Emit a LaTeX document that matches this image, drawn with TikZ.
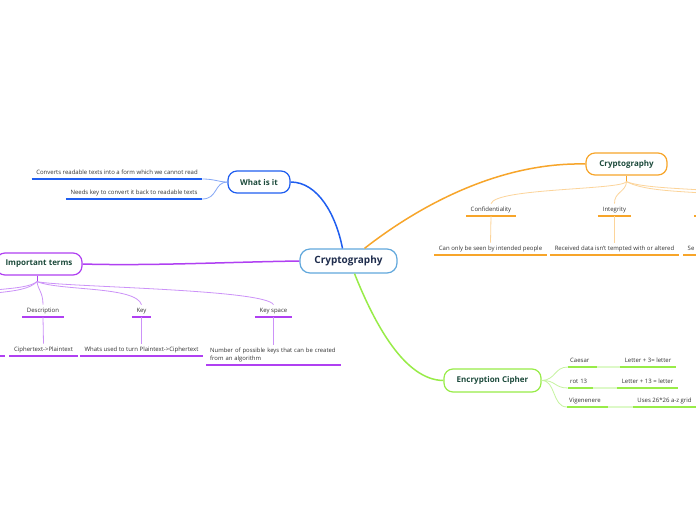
\documentclass[tikz,border=0pt]{standalone}
\usepackage{fontspec}
\setmainfont{Open Sans}
\usetikzlibrary{calc}
\definecolor{hd}{HTML}{1D4B3C}
\definecolor{ctxt}{HTML}{1F2D4D}
\definecolor{txt}{HTML}{333333}
\definecolor{cbord}{HTML}{62A8DC}
\definecolor{bl}{HTML}{1F5EF0}
\definecolor{bllt}{HTML}{86A8F6}
\definecolor{pu}{HTML}{B040F2}
\definecolor{pult}{HTML}{CC92F8}
\definecolor{or}{HTML}{F7A52A}
\definecolor{orlt}{HTML}{FCD49A}
\definecolor{gr}{HTML}{98EC48}
\definecolor{grlt}{HTML}{C6F4A0}
\definecolor{grvl}{HTML}{DDF9C8}
\begin{document}
\begin{tikzpicture}[x=1pt,y=-1pt,
  topic/.style={draw=#1, line width=1.2pt, rounded corners=9pt, fill=white,
    font=\fontsize{8}{9}\selectfont\bfseries, text=hd, minimum height=22pt, inner sep=0pt},
  leaf/.style={font=\fontsize{6}{7}\selectfont, text=txt, inner xsep=4.5pt, inner ysep=3pt,
    text height=4.4pt, text depth=1.5pt, anchor=south},
  ul/.style={line width=2pt, draw=#1},
  main/.style={line width=1.5pt, draw=#1},
  thin/.style={line width=0.8pt, draw=#1}]
\clip (0,0) rectangle (696,520);
\fill[white] (0,0) rectangle (696,520);

% ---------- central and main topics ----------
\node[topic=cbord, font=\fontsize{10}{11}\selectfont\bfseries, text=ctxt, minimum width=97pt, minimum height=24pt, rounded corners=10pt] (c) at (348.5,261) {Cryptography};
\node[topic=bl, minimum width=62pt] (what) at (259,182) {What is it};
\node[topic=pu, minimum width=86pt] (imp) at (39,264) {Important terms};
\node[topic=or, minimum width=81pt] (cry) at (626.5,164) {Cryptography};
\node[topic=gr, minimum width=97pt, minimum height=23pt] (enc) at (492.5,380.5) {Encryption Cipher};

\draw[main=bl] ($(c.north)+(-6,0)$) .. controls (336,215) and (318,182) .. (what.east);
\draw[main=or] ($(c.north)+(16,0)$) .. controls (420,205) and (500,162) .. (cry.west);
\draw[main=gr] ($(c.south)+(6,0)$) .. controls (375,325) and (405,380) .. (enc.west);
\draw[main=pu] (c.west) .. controls (230,262) and (150,266) .. (imp.east);

% ---------- What is it ----------
\node[leaf, minimum width=170pt] (w1) at (117,179) {Converts readable texts into a form which we cannot read};
\node[leaf, minimum width=136pt] (w2) at (134,199) {Needs key to convert it back to readable texts};
\draw[ul=bl] (w1.south west) -- (w1.south east);
\draw[ul=bl] (w2.south west) -- (w2.south east);
\draw[thin=bllt] (w1.south east) .. controls (215,179) and (218,182) .. (what.west);
\draw[thin=bllt] (w2.south east) .. controls (218,199) and (214,182) .. (what.west);

% ---------- Important terms ----------
\coordinate (ifan) at ($(imp.south)+(-2,6)$);
\draw[thin=pu] ($(imp.south)+(-2,0)$) -- (ifan);
\coordinate (ioff1) at (-5,290);
\coordinate (ioff2) at (-5,293);
\node[leaf, minimum width=40pt] (desc) at (43,317) {Description};
\node[leaf, minimum width=67pt] (descc) at (43.5,356) {Ciphertext->Plaintext};
\node[leaf, minimum width=19pt] (key) at (141.5,317) {Key};
\node[leaf, minimum width=121pt] (keyc) at (141.5,356) {Whats used to turn Plaintext->Ciphertext};
\node[leaf, minimum width=37pt] (ks) at (273.5,317) {Key space};
\node[leaf, anchor=south west, text height=, text depth=, inner xsep=4pt, text width=127pt, align=left, font=\fontsize{5.9}{8}\selectfont] (ksc) at (206,365) {\mbox{Number of possible keys that can be created}\\\mbox{from an algorithm}};
\node[leaf, anchor=south east] (pt) at (5,356) {t};
\foreach \n in {desc,descc,key,keyc,ks,ksc,pt} \draw[ul=pu] (\n.south west) -- (\n.south east);
\draw[thin=pult] (ifan) .. controls (38,290) and (43,292) .. (desc.north);
\draw[thin=pult] (ifan) .. controls (60,291) and (136,286) .. (key.north);
\draw[thin=pult] (ifan) .. controls (60,287) and (266,289) .. (ks.north);
\draw[thin=pult] (ifan) .. controls (30,287) and (15,288) .. (ioff1);
\draw[thin=pult] (ifan) .. controls (30,289) and (15,291) .. (ioff2);
\draw[thin=pult] (desc.south) -- (descc.north);
\draw[thin=pult] (key.south) -- (keyc.north);
\draw[thin=pult] (ks.south) -- ($(ksc.north west)+(67.5,0)$);

% ---------- Cryptography (orange) ----------
\coordinate (ofan) at ($(cry.south)+(0,6)$);
\draw[thin=or] (cry.south) -- (ofan);
\node[leaf, minimum width=48pt] (conf) at (491,216) {Confidentiality};
\node[leaf, minimum width=111pt] (confc) at (490.5,255) {Can only be seen by intended people};
\node[leaf, minimum width=33pt] (integ) at (614.5,216) {Integrity};
\node[leaf, minimum width=127pt] (integc) at (614.5,255) {Received data isn't tempted with or altered};
\node[leaf, anchor=south west, minimum width=30pt, align=left, text width=21pt, inner xsep=4pt] (se) at (683,255) {Se};
\coordinate (o3a) at (694,216);
\coordinate (o3b) at (702,216);
\coordinate (ooff1) at (702,190);
\coordinate (ooff2) at (702,193);
\foreach \n in {conf,confc,integ,integc,se} \draw[ul=or] (\n.south west) -- (\n.south east);
\draw[ul=or] (o3a) -- (o3b);
\draw[thin=orlt] (ofan) .. controls (622,190) and (495,188) .. (conf.north);
\draw[thin=orlt] (ofan) .. controls (626,192) and (614,192) .. (integ.north);
\draw[thin=orlt] (ofan) .. controls (640,187) and (670,188) .. (ooff1);
\draw[thin=orlt] (ofan) .. controls (642,190) and (672,191) .. (ooff2);
\draw[thin=orlt] (conf.south) -- (confc.north);
\draw[thin=orlt] (integ.south) -- (integc.north);

% ---------- Encryption Cipher ----------
\node[leaf, anchor=south west, inner xsep=2pt, text width=25pt, align=left] (cae) at (568,367) {Caesar};
\node[leaf, minimum width=56pt] (caer) at (648,367) {Letter + 3= letter};
\node[leaf, anchor=south west, inner xsep=2pt, text width=21pt, align=left] (rot) at (568,388) {rot 13};
\node[leaf, minimum width=61pt] (rotr) at (647.5,388) {Letter + 13 = letter};
\node[leaf, anchor=south west, inner xsep=2pt, text width=37pt, align=left] (vig) at (567,407) {Vigenenere};
\node[leaf, minimum width=63pt] (vigr) at (664.5,407) {Uses 26*26 a-z grid};
\foreach \n in {cae,caer,rot,rotr,vig,vigr} \draw[ul=gr] (\n.south west) -- (\n.south east);
\draw[ul=grvl] (cae.south east) -- (caer.south west);
\draw[ul=grvl] (rot.south east) -- (rotr.south west);
\draw[ul=grvl] (vig.south east) -- (vigr.south west);
\draw[thin=grlt] (enc.east) .. controls (556,380) and (554,367) .. (cae.south west);
\draw[thin=grlt] (enc.east) .. controls (556,380) and (554,388) .. (rot.south west);
\draw[thin=grlt] (enc.east) .. controls (556,380) and (552,407) .. (vig.south west);
\end{tikzpicture}
\end{document}
